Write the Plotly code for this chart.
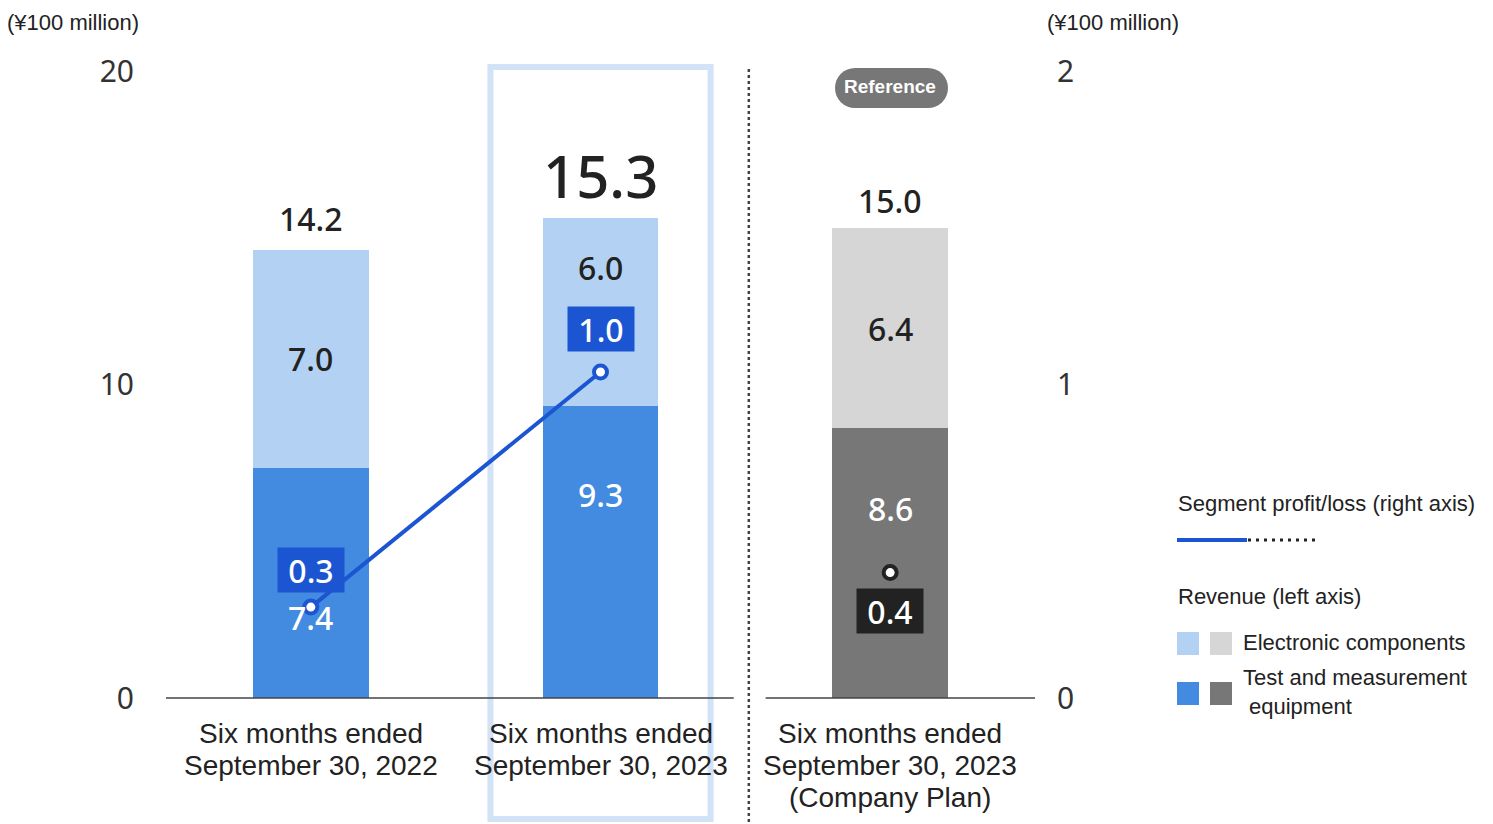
import plotly.graph_objects as go

# ---------------- data ----------------
categories = [
    ["Six months ended", "September 30, 2022"],
    ["Six months ended", "September 30, 2023"],
    ["Six months ended", "September 30, 2023", "(Company Plan)"],
]
test_rev = [7.35, 9.3, 8.6]          # Test and measurement equipment (left axis)
elec_rev = [6.95, 6.0, 6.4]          # Electronic components (left axis)
test_labels = ["7.4", "9.3", "8.6"]
elec_labels = ["7.0", "6.0", "6.4"]
total_labels = ["14.2", "15.3", "15.0"]
profit = [0.29, 1.04]                # Segment profit (right axis), actual
profit_labels = ["0.3", "1.0"]
plan_profit = [0.40]                 # Segment profit, company plan
plan_profit_labels = ["0.4"]
left_ticks = [0, 10, 20]
right_ticks = [0, 1, 2]

# ---------------- styling ----------------
W, H = 1493, 824
OFF = 8  # default page body margin
PL, PR, PT, PB = 166, 1035, 71, 698   # plot area in screen pixels
LIGHT_BLUE = "#b3d1f3"
DARK_BLUE = "#438ae1"
LIGHT_GRAY = "#d6d6d6"
DARK_GRAY = "#777777"
LINE_BLUE = "#1c55d2"
TXT = "#222222"
NUM_FONT = "Noto Sans"
TXT_FONT = "Liberation Sans, Arial"


def px(x):
    return (x - PL) / (PR - PL)


def py(y):
    return (PB - y) / (PB - PT)


xs = list(range(len(categories)))
fig = go.Figure()

fig.add_trace(go.Bar(x=xs[:2], y=test_rev[:2], marker_color=DARK_BLUE, width=0.4,
                     marker_line_width=0, showlegend=False, hoverinfo="skip"))
fig.add_trace(go.Bar(x=xs[2:], y=test_rev[2:], marker_color=DARK_GRAY, width=0.4,
                     marker_line_width=0, showlegend=False, hoverinfo="skip"))
fig.add_trace(go.Bar(x=xs[:2], y=elec_rev[:2], marker_color=LIGHT_BLUE, width=0.4,
                     marker_line_width=0, showlegend=False, hoverinfo="skip"))
fig.add_trace(go.Bar(x=xs[2:], y=elec_rev[2:], marker_color=LIGHT_GRAY, width=0.4,
                     marker_line_width=0, showlegend=False, hoverinfo="skip"))

fig.add_trace(go.Scatter(x=xs[:2], y=profit, yaxis="y2", mode="lines+markers",
                         line=dict(color=LINE_BLUE, width=4),
                         marker=dict(size=13, color="white", line=dict(color=LINE_BLUE, width=4)),
                         showlegend=False, hoverinfo="skip"))
fig.add_trace(go.Scatter(x=xs[2:], y=plan_profit, yaxis="y2", mode="markers",
                         marker=dict(size=13, color="white", line=dict(color=TXT, width=4)),
                         showlegend=False, hoverinfo="skip"))

ann = []
# inner labels
test_shift = [-35, 58, 55]
elec_shift = [0, 45, 0]
for i in xs:
    ann.append(dict(x=i, y=test_rev[i] / 2, xref="x", yref="y", text=test_labels[i],
                    showarrow=False, yshift=test_shift[i], yanchor="middle",
                    font=dict(family=NUM_FONT, size=32, color="white", weight=500)))
    ann.append(dict(x=i, y=test_rev[i] + elec_rev[i] / 2, xref="x", yref="y", text=elec_labels[i],
                    showarrow=False, yshift=elec_shift[i], yanchor="middle",
                    font=dict(family=NUM_FONT, size=32, color=TXT, weight=500)))
# totals
total_shift = [31, 43, 27]
total_size = [32, 58, 32]
for i in xs:
    ann.append(dict(x=i, y=test_rev[i] + elec_rev[i], xref="x", yref="y", text=total_labels[i],
                    showarrow=False, yshift=total_shift[i], yanchor="middle",
                    font=dict(family=NUM_FONT, size=total_size[i], color=TXT, weight=500)))
# profit labels
p_shift = [37, 43]
for i, v in enumerate(profit):
    ann.append(dict(x=xs[i], y=v, xref="x", yref="y2", text=profit_labels[i], showarrow=False,
                    yshift=p_shift[i], yanchor="middle", bgcolor=LINE_BLUE, width=58, height=36, borderpad=4,
                    font=dict(family=NUM_FONT, size=32, color="white", weight=500)))
for i, v in enumerate(plan_profit):
    ann.append(dict(x=xs[2 + i], y=v, xref="x", yref="y2", text=plan_profit_labels[i], showarrow=False,
                    yshift=-38, yanchor="middle", bgcolor=TXT, width=58, height=36, borderpad=4,
                    font=dict(family=NUM_FONT, size=32, color="white", weight=500)))

# category labels
line_y = [733, 765, 797]
for i, lines in enumerate(categories):
    for j, t in enumerate(lines):
        ann.append(dict(x=xs[i], y=py(line_y[j]), xref="x", yref="paper", text=t, showarrow=False,
                        yanchor="middle", font=dict(family=TXT_FONT, size=28, color=TXT)))

# unit labels
for ux in (5, 1045):
    ann.append(dict(x=px(ux), y=py(22), xref="paper", yref="paper", text="(¥100 million)",
                    showarrow=False, xanchor="left", yanchor="middle",
                    font=dict(family=TXT_FONT, size=22, color=TXT)))

# Reference pill text
ann.append(dict(x=xs[2], y=py(87), xref="x", yref="paper", text="<b>Reference</b>", showarrow=False,
                yanchor="middle", font=dict(family=TXT_FONT, size=19, color="white")))

# legend texts
leg_txt = [
    ("Segment profit/loss (right axis)", 1176, 503),
    ("Revenue (left axis)", 1176, 596),
    ("Electronic components", 1241, 642),
    ("Test and measurement", 1241, 677),
    ("equipment", 1247, 706),
]
for t, x, y in leg_txt:
    ann.append(dict(x=px(x), y=py(y), xref="paper", yref="paper", text=t, showarrow=False,
                    xanchor="left", yanchor="middle", font=dict(family=TXT_FONT, size=22, color=TXT)))

shapes = []
# highlight frame around current period
shapes.append(dict(type="rect", xref="x", yref="paper", x0=0.62, x1=1.38, y0=py(819), y1=py(67),
                   line=dict(color="#d2e2f7", width=6), layer="below"))
# baselines
shapes.append(dict(type="line", xref="x", yref="paper", x0=-0.5, x1=1.46, y0=0, y1=0,
                   line=dict(color="#444444", width=1.5)))
shapes.append(dict(type="line", xref="x", yref="paper", x0=1.57, x1=2.5, y0=0, y1=0,
                   line=dict(color="#444444", width=1.5)))
# dotted divider
shapes.append(dict(type="line", xref="x", yref="paper", x0=1.512, x1=1.512, y0=py(822), y1=py(66),
                   line=dict(color="#444444", width=2.5, dash="dot")))
# Reference pill
shapes.append(dict(type="rect", xref="paper", yref="paper", x0=px(855), x1=px(928), y0=py(108), y1=py(68),
                   fillcolor=DARK_GRAY, line_width=0))
shapes.append(dict(type="circle", xref="paper", yref="paper", x0=px(835), x1=px(875), y0=py(108), y1=py(68),
                   fillcolor=DARK_GRAY, line_width=0))
shapes.append(dict(type="circle", xref="paper", yref="paper", x0=px(908), x1=px(948), y0=py(108), y1=py(68),
                   fillcolor=DARK_GRAY, line_width=0))
# legend line
shapes.append(dict(type="line", xref="paper", yref="paper", x0=px(1177), x1=px(1247), y0=py(540), y1=py(540),
                   line=dict(color=LINE_BLUE, width=4)))
shapes.append(dict(type="line", xref="paper", yref="paper", x0=px(1248), x1=px(1318), y0=py(540), y1=py(540),
                   line=dict(color="#222222", width=3, dash="3px,5px")))
# legend squares
for (x0, y0, c) in [(1177, 632, LIGHT_BLUE), (1210, 632, LIGHT_GRAY), (1177, 682, DARK_BLUE), (1210, 682, DARK_GRAY)]:
    shapes.append(dict(type="rect", xref="paper", yref="paper", x0=px(x0), x1=px(x0 + 22),
                       y0=py(y0 + 23), y1=py(y0), fillcolor=c, line_width=0))

FW, FH = W - OFF, H - OFF
fig.update_layout(
    width=FW, height=FH,
    margin=dict(l=PL - OFF, r=FW - (PR - OFF), t=PT - OFF, b=FH - (PB - OFF), pad=0),
    barmode="stack",
    bargap=0,
    plot_bgcolor="white", paper_bgcolor="white",
    showlegend=False,
    xaxis=dict(range=[-0.5, 2.5], showticklabels=False, showgrid=False, zeroline=False,
               showline=False, ticks=""),
    yaxis=dict(range=[0, 20], tickvals=left_ticks, showgrid=False, zeroline=False, showline=False,
               ticks="", ticklabelstandoff=31,
               tickfont=dict(family=NUM_FONT, size=30, color="#333333")),
    yaxis2=dict(range=[0, 2], tickvals=right_ticks, overlaying="y", side="right", showgrid=False,
                zeroline=False, showline=False, ticks="", ticklabelstandoff=21,
                tickfont=dict(family=NUM_FONT, size=30, color="#333333")),
    annotations=ann,
    shapes=shapes,
)

fig.write_html("out.html")
